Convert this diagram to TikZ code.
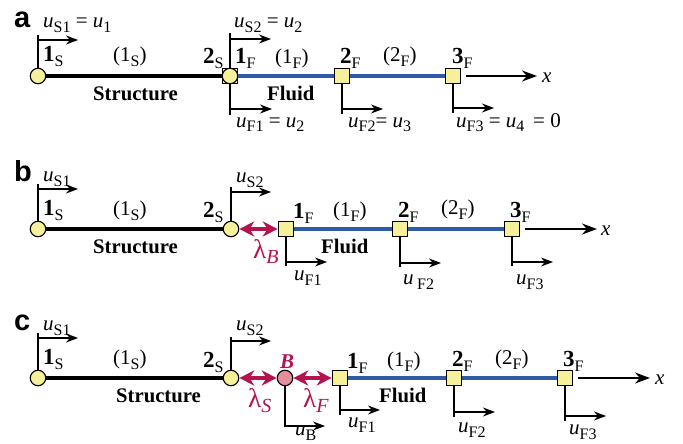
\documentclass[tikz,border=0pt]{standalone}
\usepackage{fontspec}
\setmainfont{Liberation Serif}
\newfontfamily\panelfont{Liberation Sans}
\usetikzlibrary{positioning, arrows.meta}
\definecolor{nodeyellow}{HTML}{F7F09A}
\definecolor{nodepink}{HTML}{E58F9B}
\definecolor{fluidblue}{HTML}{2F5AA6}
\definecolor{lagrred}{HTML}{B5134F}
\newcommand{\lowsub}[1]{\raisebox{-5pt}{\fontsize{16}{16}\selectfont #1}}
\newcommand{\uvar}[1]{\textit{u}\lowsub{#1}}
\newcommand{\boldnum}[2]{{\fontsize{23}{23}\selectfont\textbf{#1}}\lowsub{#2}}
\newcommand{\framearrows}[3]{\draw[axis] (#1) -- (#2); \draw[axisarrow] (#1 |- #3) -- (#3);}

\begin{document}
\begin{tikzpicture}[x=1pt, y=-1pt,
    every node/.style={font=\fontsize{21}{23}\selectfont},
    snode/.style={circle, draw, line width=1.1pt, inner sep=0pt, minimum size=15.5pt, fill=nodeyellow},
    fnode/.style={rectangle, draw, line width=1.1pt, inner sep=0pt, minimum size=15.5pt, fill=nodeyellow},
    bnode/.style={circle, draw, line width=1.1pt, inner sep=0pt, minimum size=15.5pt, fill=nodepink},
    lab/.style={anchor=base west, inner sep=0pt},
    panel/.style={anchor=base west, inner sep=0pt, font=\panelfont\bfseries\fontsize{29}{29}\selectfont},
    title/.style={anchor=base west, inner sep=0pt, font=\bfseries\fontsize{20.7}{23}\selectfont},
    lagr/.style={anchor=base west, inner sep=0pt, text=lagrred, font=\fontsize{27}{29}\selectfont},
    strut/.style={line width=4.5pt},
    fluid/.style={line width=4.5pt, draw=fluidblue},
    axis/.style={line width=1.1pt},
    axisarrow/.style={line width=1.1pt, -{Stealth[length=12pt, width=9pt]}},
    xaxis/.style={line width=1.5pt, -{Stealth[length=15pt, width=11pt]}},
    lagrarrow/.style={line width=3.2pt, draw=lagrred, {Stealth[length=15pt, width=15pt]}-{Stealth[length=15pt, width=15pt]}}]

  \useasboundingbox (0,0) rectangle (683,444);

  % panel a
  \node[panel] (pa) at (14,28) {a};
  \node[snode] (a1S) at (38,76) {};
  \node[fnode] (a1F) at (230,76) {};
  \node[snode] (a2S) at (230,76) {};
  \node[fnode] (a2F) at (342,76) {};
  \node[fnode] (a3F) at (453,76) {};
  \coordinate (axs) at (466,76);
  \coordinate (axe) at (537,76);
  \draw[strut] (a1S) -- (a2S);
  \draw[fluid] (a1F) -- (a2F);
  \draw[fluid] (a2F) -- (a3F);
  \draw[xaxis] (axs) -- (axe);
  \coordinate (a1Sv) at (38,35);   \coordinate (a1Sh) at (78,40);
  \coordinate (a2Sv) at (230,33);  \coordinate (a2Sh) at (271,39);
  \coordinate (a1Fv) at (230,115); \coordinate (a1Fh) at (272,109);
  \coordinate (a2Fv) at (342,114); \coordinate (a2Fh) at (383,109);
  \coordinate (a3Fv) at (453,113); \coordinate (a3Fh) at (494,108);
  \framearrows{a1S.north}{a1Sv}{a1Sh}
  \framearrows{a1F.north}{a2Sv}{a2Sh}
  \framearrows{a1F.south}{a1Fv}{a1Fh}
  \framearrows{a2F.south}{a2Fv}{a2Fh}
  \framearrows{a3F.south}{a3Fv}{a3Fh}
  \node[lab] (auS1) at (43,28) {\uvar{S1} = \textit{u}\lowsub{1}};
  \node[lab] (auS2) at (234,28) {\uvar{S2} = \textit{u}\lowsub{2}};
  \node[lab] (auF1) at (236,127) {\uvar{F1} = \textit{u}\lowsub{2}};
  \node[lab] (auF2) at (348,127) {\uvar{F2}= \textit{u}\lowsub{3}};
  \node[lab] (auF3) at (456,127) {\uvar{F3} = \textit{u}\lowsub{4} \,= 0};
  \node[lab] (an1S) at (43,62) {\boldnum{1}{S}};
  \node[lab] (an2S) at (203,64) {\boldnum{2}{S}};
  \node[lab] (an1F) at (235,64) {\boldnum{1}{F}};
  \node[lab] (an2F) at (340,64) {\boldnum{2}{F}};
  \node[lab] (an3F) at (452,64) {\boldnum{3}{F}};
  \node[lab] (ae1S) at (113,62) {(1\lowsub{S})};
  \node[lab] (ae1F) at (275,64) {(1\lowsub{F})};
  \node[lab] (ae2F) at (383,62) {(2\lowsub{F})};
  \node[title] (aStr) at (93,100) {Structure};
  \node[title] (aFlu) at (267,100) {Fluid};
  \node[lab] (ax) at (542,82) {\textit{x}};

  % panel b
  \node[panel] (pb) at (14,181) {b};
  \node[snode] (b1S) at (38,229) {};
  \node[snode] (b2S) at (231,229) {};
  \node[fnode] (b1F) at (286,229) {};
  \node[fnode] (b2F) at (400,229) {};
  \node[fnode] (b3F) at (512,229) {};
  \coordinate (bxs) at (525,229);
  \coordinate (bxe) at (597,229);
  \draw[strut] (b1S) -- (b2S);
  \draw[fluid] (b1F) -- (b2F);
  \draw[fluid] (b2F) -- (b3F);
  \draw[xaxis] (bxs) -- (bxe);
  \draw[lagrarrow] (b2S) -- (b1F);
  \coordinate (b1Sv) at (38,184);  \coordinate (b1Sh) at (78,189);
  \coordinate (b2Sv) at (231,187); \coordinate (b2Sh) at (271,192);
  \coordinate (b1Fv) at (286,266); \coordinate (b1Fh) at (327,262);
  \coordinate (b2Fv) at (400,267); \coordinate (b2Fh) at (441,263);
  \coordinate (b3Fv) at (512,266); \coordinate (b3Fh) at (553,262);
  \framearrows{b1S.north}{b1Sv}{b1Sh}
  \framearrows{b2S.north}{b2Sv}{b2Sh}
  \framearrows{b1F.south}{b1Fv}{b1Fh}
  \framearrows{b2F.south}{b2Fv}{b2Fh}
  \framearrows{b3F.south}{b3Fv}{b3Fh}
  \node[lab] (buS1) at (43,181) {\uvar{S1}};
  \node[lab] (buS2) at (236,182) {\uvar{S2}};
  \node[lab] (buF1) at (294,280) {\uvar{F1}};
  \node[lab] (buF2) at (403,284) {\textit{u}\,\lowsub{F2}};
  \node[lab] (buF3) at (516,284) {\uvar{F3}};
  \node[lab] (bn1S) at (43,215) {\boldnum{1}{S}};
  \node[lab] (bn2S) at (203,217) {\boldnum{2}{S}};
  \node[lab] (bn1F) at (293,218) {\boldnum{1}{F}};
  \node[lab] (bn2F) at (398,217) {\boldnum{2}{F}};
  \node[lab] (bn3F) at (510,217) {\boldnum{3}{F}};
  \node[lab] (be1S) at (113,215) {(1\lowsub{S})};
  \node[lab] (be1F) at (333,216) {(1\lowsub{F})};
  \node[lab] (be2F) at (441,214) {(2\lowsub{F})};
  \node[title] (bStr) at (93,253) {Structure};
  \node[title] (bFlu) at (321,253) {Fluid};
  \node[lagr] (blam) at (253,258) {λ\raisebox{-5pt}{\fontsize{20}{20}\selectfont\textit{B}}};
  \node[lab] (bx) at (601,235) {\textit{x}};

  % panel c
  \node[panel] (pc) at (14,330) {c};
  \node[snode] (c1S) at (38,378) {};
  \node[snode] (c2S) at (231,378) {};
  \node[bnode] (cB) at (285,378) {};
  \node[fnode] (c1F) at (340,378) {};
  \node[fnode] (c2F) at (454,378) {};
  \node[fnode] (c3F) at (565,378) {};
  \coordinate (cxs) at (578,378);
  \coordinate (cxe) at (650,378);
  \draw[strut] (c1S) -- (c2S);
  \draw[fluid] (c1F) -- (c2F);
  \draw[fluid] (c2F) -- (c3F);
  \draw[xaxis] (cxs) -- (cxe);
  \draw[lagrarrow] (c2S) -- (cB);
  \draw[lagrarrow] (cB) -- (c1F);
  \coordinate (c1Sv) at (38,333);  \coordinate (c1Sh) at (78,338);
  \coordinate (c2Sv) at (231,337); \coordinate (c2Sh) at (271,341);
  \coordinate (cBv) at (285,427);  \coordinate (cBh) at (325,426);
  \coordinate (c1Fv) at (340,415); \coordinate (c1Fh) at (380,410);
  \coordinate (c2Fv) at (454,417); \coordinate (c2Fh) at (495,412);
  \coordinate (c3Fv) at (565,421); \coordinate (c3Fh) at (606,416);
  \framearrows{c1S.north}{c1Sv}{c1Sh}
  \framearrows{c2S.north}{c2Sv}{c2Sh}
  \framearrows{cB.south}{cBv}{cBh}
  \framearrows{c1F.south}{c1Fv}{c1Fh}
  \framearrows{c2F.south}{c2Fv}{c2Fh}
  \framearrows{c3F.south}{c3Fv}{c3Fh}
  \node[lab] (cuS1) at (43,330) {\uvar{S1}};
  \node[lab] (cuS2) at (236,330) {\uvar{S2}};
  \node[lab] (cuB) at (295,435) {\uvar{B}};
  \node[lab] (cuF1) at (348,427) {\uvar{F1}};
  \node[lab] (cuF2) at (458,432) {\uvar{F2}};
  \node[lab] (cuF3) at (569,434) {\uvar{F3}};
  \node[lab] (cn1S) at (43,364) {\boldnum{1}{S}};
  \node[lab] (cn2S) at (203,367) {\boldnum{2}{S}};
  \node[lab] (cn1F) at (347,368) {\boldnum{1}{F}};
  \node[lab] (cn2F) at (452,366) {\boldnum{2}{F}};
  \node[lab] (cn3F) at (563,366) {\boldnum{3}{F}};
  \node[lab] (ce1S) at (113,364) {(1\lowsub{S})};
  \node[lab] (ce1F) at (387,366) {(1\lowsub{F})};
  \node[lab] (ce2F) at (495,364) {(2\lowsub{F})};
  \node[title] (cStr) at (116,402) {Structure};
  \node[title] (cFlu) at (379,402) {Fluid};
  \node[lab, text=lagrred, font=\bfseries\itshape\fontsize{21}{23}\selectfont] (cBl) at (280,368) {B};
  \node[lagr] (clamS) at (248,407) {λ\raisebox{-5pt}{\fontsize{20}{20}\selectfont\textit{S}}};
  \node[lagr] (clamF) at (303,407) {λ\raisebox{-5pt}{\fontsize{20}{20}\selectfont\textit{F}}};
  \node[lab] (cx) at (655,384) {\textit{x}};
\end{tikzpicture}
\end{document}
